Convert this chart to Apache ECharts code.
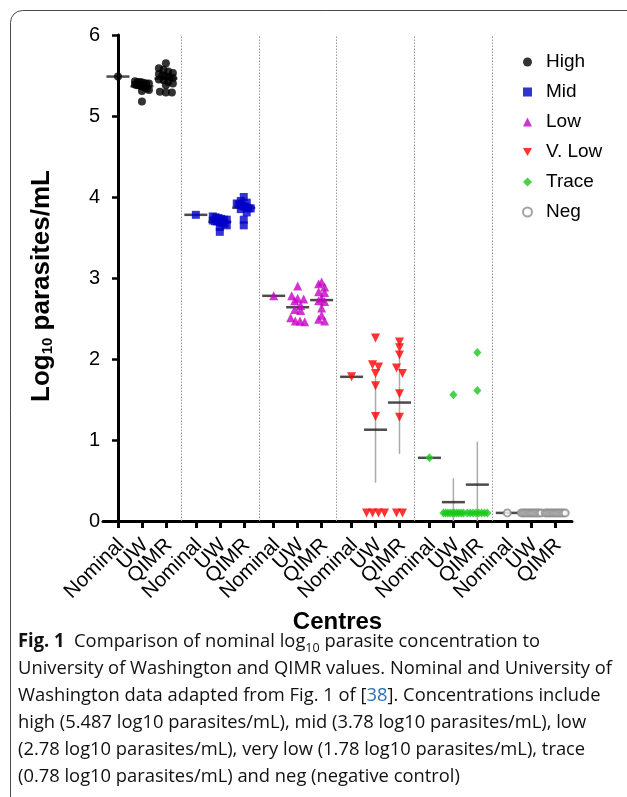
<!DOCTYPE html>
<html>
<head>
<meta charset="utf-8">
<script src="https://cdn.jsdelivr.net/npm/echarts@6/dist/echarts.min.js"></script>
<style>
  html, body { margin: 0; padding: 0; background: #fff; }
  #chart { width: 627px; height: 797px; }
</style>
</head>
<body>
<div id="chart"></div>
<script>
// ---------------- DATA ----------------
const centres = ['Nominal', 'UW', 'QIMR'];
const levels = ['High', 'Mid', 'Low', 'V. Low', 'Trace', 'Neg'];
const nominalValues = [5.487, 3.78, 2.78, 1.78, 0.78, 0.1];

const highUW   = [5.43, 5.42, 5.42, 5.41, 5.40, 5.40, 5.39, 5.38, 5.38, 5.37, 5.36, 5.35, 5.34, 5.32, 5.31, 5.18];
const highQIMR = [5.65, 5.59, 5.57, 5.55, 5.53, 5.52, 5.50, 5.49, 5.48, 5.47, 5.45, 5.44, 5.42, 5.40, 5.38, 5.30, 5.29, 5.29];
const midUW    = [3.76, 3.75, 3.74, 3.73, 3.72, 3.72, 3.71, 3.70, 3.70, 3.69, 3.68, 3.67, 3.65, 3.63, 3.57];
const midQIMR  = [4.00, 3.95, 3.93, 3.92, 3.91, 3.90, 3.89, 3.88, 3.87, 3.86, 3.86, 3.85, 3.81, 3.72, 3.65];
const lowUW    = [2.90, 2.78, 2.75, 2.74, 2.72, 2.66, 2.61, 2.60, 2.51, 2.47, 2.47, 2.46];
const lowQIMR  = [2.95, 2.93, 2.89, 2.83, 2.82, 2.75, 2.72, 2.71, 2.63, 2.54, 2.49, 2.47];
const vlowUW   = [2.26, 1.93, 1.90, 1.82, 1.67, 1.29, 0.1, 0.1, 0.1, 0.1];
const vlowQIMR = [2.21, 2.14, 2.05, 1.89, 1.82, 1.57, 1.28, 0.1, 0.1];
const traceUW  = [1.56, 0.1, 0.1, 0.1, 0.1, 0.1, 0.1, 0.1, 0.1, 0.1, 0.1];
const traceQIMR= [2.08, 1.61, 0.1, 0.1, 0.1, 0.1, 0.1, 0.1, 0.1, 0.1];
const negUW    = [0.1, 0.1, 0.1, 0.1, 0.1, 0.1, 0.1, 0.1, 0.1, 0.1, 0.1, 0.1];
const negQIMR  = [0.1, 0.1, 0.1, 0.1, 0.1, 0.1, 0.1, 0.1, 0.1, 0.1, 0.1, 0.1];

const uwSets   = [highUW, midUW, lowUW, vlowUW, traceUW, negUW];
const qimrSets = [highQIMR, midQIMR, lowQIMR, vlowQIMR, traceQIMR, negQIMR];

const yTicks = [0, 1, 2, 3, 4, 5, 6];

// ---------------- LAYOUT / STYLE ----------------
const W = 627;
const GRID = { left: 103, right: 55, top: 35, bottom: 276 };
const GROUP_STEP = 3.25;
const X_MIN = -0.625, X_MAX = 18.95;
const PX_PER_X = (W - GRID.left - GRID.right) / (X_MAX - X_MIN);
const FONT = 'Arial, "Liberation Sans", sans-serif';

const styles = [
  { symbol: 'circle', size: 8, color: '#000000' },
  { symbol: 'rect', size: 8, color: '#0000c8' },
  { symbol: 'triangle', size: 9, color: '#c800c8' },
  { symbol: 'path://M0,0 L10,0 L5,9 Z', size: 9, color: '#ff0000' },
  { symbol: 'diamond', size: [8, 9], color: '#19c819' },
  { symbol: 'emptyCircle', size: 7, color: '#8c8c8c' }
];

// t critical values (two-sided 95%) by degrees of freedom
const T95 = [0, 12.706, 4.303, 3.182, 2.776, 2.571, 2.447, 2.365, 2.306, 2.262, 2.228,
  2.201, 2.179, 2.160, 2.145, 2.131, 2.120, 2.110, 2.101, 2.093, 2.086];

function swarm(values, cx) {
  // GraphPad-like scatter: points in the same value band are spread in a centred row
  const BIN = 0.07, SPACING = 6, MAXHALF = 7;
  const bins = new Map();
  values.forEach((v, i) => {
    const b = Math.floor(v / BIN);
    if (!bins.has(b)) bins.set(b, []);
    bins.get(b).push(i);
  });
  const pts = [];
  bins.forEach(idx => {
    const n = idx.length;
    const half = (values[idx[0]] < 0.2) ? 10 : MAXHALF;
    const sp = n > 1 ? Math.min(SPACING, 2 * half / (n - 1)) : 0;
    idx.forEach((i, k) => pts.push([cx + (k - (n - 1) / 2) * sp / PX_PER_X, values[i]]));
  });
  return pts;
}

const tickPositions = [];
const tickNames = [];
const separators = [];
const meanData = [];
const ciData = [];
const series = [];

levels.forEach((lv, g) => {
  const groups = [[nominalValues[g]], uwSets[g], qimrSets[g]];
  const pts = [];
  groups.forEach((vals, m) => {
    const cx = g * GROUP_STEP + m;
    tickPositions.push(cx);
    tickNames.push(centres[m]);
    pts.push(...swarm(vals, cx));
    const n = vals.length;
    const mean = vals.reduce((a, b) => a + b, 0) / n;
    meanData.push([cx, mean]);
    if (n > 1) {
      const sd = Math.sqrt(vals.reduce((a, b) => a + (b - mean) * (b - mean), 0) / (n - 1));
      const half = T95[Math.min(n - 1, 20)] * sd / Math.sqrt(n);
      ciData.push([cx, Math.max(0, mean - half), mean + half]);
    }
  });
  if (g < levels.length - 1) separators.push(g * GROUP_STEP + 2.625);
  const st = styles[g];
  series.push({
    type: 'scatter', name: lv, data: pts, z: 5,
    symbol: st.symbol, symbolSize: st.size,
    itemStyle: g === 5 ? { color: st.color, borderColor: st.color, borderWidth: 1 } : { color: st.color },
    emphasis: { disabled: true }
  });
});

series.unshift({
  type: 'scatter', name: 'mean', data: meanData, z: 3, silent: true,
  symbol: 'rect', symbolSize: [23, 2.5], itemStyle: { color: '#1e1e1e' }
});

series.unshift({
  type: 'custom', name: 'ci', data: ciData, z: 2, silent: true,
  renderItem: function (params, api) {
    const p1 = api.coord([api.value(0), api.value(1)]);
    const p2 = api.coord([api.value(0), api.value(2)]);
    return {
      type: 'line',
      shape: { x1: p1[0], y1: p1[1], x2: p2[0], y2: p2[1] },
      style: { stroke: '#ababab', lineWidth: 1.5 }
    };
  },
  encode: { x: 0, y: [1, 2] },
  markLine: {
    silent: true, symbol: ['none', 'none'], label: { show: false },
    lineStyle: { type: [1.5, 1.5], color: '#9a9a9a', width: 1 },
    data: separators.map(v => ({ xAxis: v }))
  }
});

// x tick labels drawn through the x scale (custom series in data coordinates)
series.push({
  type: 'custom', name: 'xlabels', silent: true, z: 6, clip: false,
  data: tickPositions.map((p, i) => [p, 0, i]),
  encode: { x: 0, y: 1 },
  renderItem: function (params, api) {
    const p = api.coord([api.value(0), 0]);
    return {
      type: 'text',
      x: p[0] + 3, y: p[1] + 21,
      rotation: Math.PI / 4,
      style: {
        text: tickNames[api.value(2)], fontSize: 20.5, fontFamily: FONT, fill: '#000',
        align: 'right', verticalAlign: 'middle'
      }
    };
  }
});

// ---------------- CAPTION ----------------
const CAP_FONT = '"Open Sans", "Noto Sans", sans-serif';
const CAP_SIZE = 19;
const captionLines = [
  '{b|Fig. 1}  Comparison of nominal log{sub|10} parasite concentration to',
  'University of Washington and QIMR values. Nominal and University of',
  'Washington data adapted from Fig. 1 of [{link|38}]. Concentrations include',
  'high (5.487 log10 parasites/mL), mid (3.78 log10 parasites/mL), low',
  '(2.78 log10 parasites/mL), very low (1.78 log10 parasites/mL), trace',
  '(0.78 log10 parasites/mL) and neg (negative control)'
];
const measureCtx = document.createElement('canvas').getContext('2d');
measureCtx.font = CAP_SIZE + 'px ' + CAP_FONT;
const capScale = 594 / measureCtx.measureText(captionLines[1]).width;

const graphics = [{
  type: 'rect', silent: true,
  shape: { x: 10.5, y: 10.5, width: 800, height: 1000, r: 12 },
  style: { fill: 'none', stroke: '#4a4a4a', lineWidth: 1 }
}];
captionLines.forEach((line, i) => {
  graphics.push({
    type: 'text', x: 18, y: 642 + i * 27, scaleX: capScale, silent: true,
    style: {
      text: line, fill: '#111', fontSize: CAP_SIZE, fontFamily: CAP_FONT,
      verticalAlign: 'middle', lineHeight: 26,
      rich: {
        b: { fontWeight: 'bold', fontSize: CAP_SIZE, fontFamily: CAP_FONT, lineHeight: 26, fill: '#111' },
        sub: { fontSize: 13, fontFamily: CAP_FONT, lineHeight: 14, verticalAlign: 'bottom', fill: '#111' },
        link: { fontSize: CAP_SIZE, fontFamily: CAP_FONT, lineHeight: 26, fill: '#2a6ebb' }
      }
    }
  });
});

// ---------------- CHART ----------------
const chart = echarts.init(document.getElementById('chart'), null, { renderer: 'canvas' });
chart.setOption({
  animation: false,
  backgroundColor: '#ffffff',
  textStyle: { fontFamily: FONT },
  grid: GRID,
  legend: {
    data: levels,
    orient: 'vertical', left: 517, top: 46,
    itemWidth: 9, itemHeight: 9, itemGap: 8,
    selectedMode: false,
    textStyle: { fontSize: 19, fontFamily: FONT, color: '#000', lineHeight: 22, padding: [0, 0, 0, 9] }
  },
  xAxis: {
    type: 'value', min: X_MIN, max: X_MAX,
    name: 'Centres', nameLocation: 'middle', nameGap: 89,
    nameTextStyle: { fontSize: 24, fontWeight: 'bold', color: '#000', fontFamily: FONT },
    axisLine: { show: true, onZero: false, lineStyle: { color: '#000', width: 3 } },
    axisTick: { show: true, length: 7, lineStyle: { color: '#000', width: 3 }, customValues: tickPositions },
    axisLabel: { show: false },
    splitLine: { show: false }
  },
  yAxis: {
    type: 'value', min: 0, max: 6, interval: 1,
    name: 'Log{sub|10} parasites/mL', nameLocation: 'middle', nameGap: 48, nameRotate: 90,
    nameTextStyle: {
      fontSize: 26, fontWeight: 'bold', color: '#000', fontFamily: FONT,
      padding: [0, 16, 0, 0],
      rich: { sub: { fontSize: 15, fontWeight: 'bold', fontFamily: FONT, color: '#000', verticalAlign: 'bottom', lineHeight: 16 } }
    },
    axisLine: { show: true, lineStyle: { color: '#000', width: 3 } },
    axisTick: { show: true, length: 6, lineStyle: { color: '#000', width: 2.5 } },
    axisLabel: {
      fontSize: 20, color: '#000', margin: 3, fontFamily: FONT,
      customValues: yTicks
    },
    splitLine: { show: false }
  },
  series: series,
  graphic: graphics
});
</script>
</body>
</html>
